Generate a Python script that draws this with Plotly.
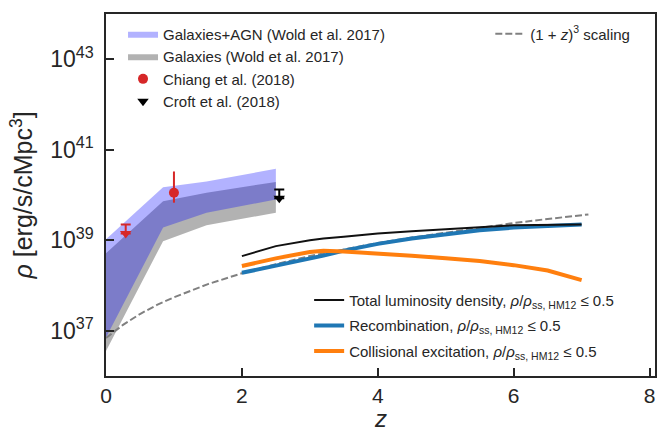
import plotly.graph_objects as go

# ---------------- data (log10 of rho in erg/s/cMpc^3) ----------------
z_band = [0.0, 0.84, 1.48, 2.5]
agn_hi = [39.02, 40.17, 40.30, 40.58]
agn_lo = [36.85, 39.28, 39.61, 39.90]
gal_hi = [38.71, 39.86, 40.05, 40.29]
gal_lo = [36.55, 38.98, 39.33, 39.61]

chiang_z = [1.0]
chiang_y = [40.05]
chiang_up = [40.52]
chiang_dn = [39.83]

chiang_ul_z = [0.29]
chiang_ul_y = [39.15]
chiang_ul_cap = [39.35]

croft_z = [2.55]
croft_y = [39.93]
croft_cap = [40.12]

z_scal = [0.0, 0.1, 0.25, 0.5, 0.75, 1.0, 1.5, 2.0, 2.5, 3.0, 3.5, 4.0, 4.5, 5.0, 5.5, 6.0, 6.5, 7.0, 7.1]
scal = [36.84, 36.96, 37.13, 37.37, 37.57, 37.74, 38.03, 38.27, 38.47, 38.65, 38.80, 38.94,
        39.06, 39.17, 39.28, 39.38, 39.47, 39.55, 39.57]

z_sim = [2.0, 2.5, 3.0, 3.2, 3.5, 4.0, 4.5, 5.0, 5.5, 6.0, 6.5, 7.0]
total = [38.65, 38.87, 39.00, 39.04, 39.08, 39.15, 39.20, 39.25, 39.29, 39.33, 39.34, 39.35]
recomb = [38.28, 38.43, 38.59, 38.66, 38.77, 38.92, 39.04, 39.14, 39.22, 39.28, 39.32, 39.35]
collis = [38.43, 38.60, 38.74, 38.77, 38.75, 38.71, 38.66, 38.60, 38.54, 38.45, 38.33, 38.12]

y_tick_exp = [37, 39, 41, 43]
x_ticks = [0, 2, 4, 6, 8]


def lin(v):
    return [10.0 ** a for a in v]


TXT = "#262626"
FONT = "Liberation Sans, Arial, sans-serif"

fig = go.Figure()

# bands
fig.add_trace(go.Scatter(
    x=z_band + z_band[::-1], y=lin(gal_hi + gal_lo[::-1]),
    fill="toself", fillcolor="rgba(0,0,0,0.3)", line=dict(width=0),
    mode="lines", name="Galaxies (Wold et al. 2017)", legend="legend", legendrank=2,
    hoverinfo="skip"))
fig.add_trace(go.Scatter(
    x=z_band + z_band[::-1], y=lin(agn_hi + agn_lo[::-1]),
    fill="toself", fillcolor="rgba(0,0,255,0.3)", line=dict(width=0),
    mode="lines", name="Galaxies+AGN (Wold et al. 2017)", legend="legend", legendrank=1,
    hoverinfo="skip"))

# scaling line
fig.add_trace(go.Scatter(
    x=z_scal, y=lin(scal), mode="lines",
    line=dict(color="#808080", width=2, dash="7px,3px"),
    name="(1 + <i>z</i>)<sup>3</sup> scaling", legend="legend2"))

# simulation lines
fig.add_trace(go.Scatter(
    x=z_sim, y=lin(recomb), mode="lines", line=dict(color="#1f77b4", width=4),
    name="Recombination, <i>ρ</i>/<i>ρ</i><sub>ss, HM12</sub> ≤ 0.5",
    legend="legend3", legendrank=2, legendgroup="rec"))
fig.add_trace(go.Scatter(
    x=z_sim, y=lin(collis), mode="lines", line=dict(color="#ff7f0e", width=4),
    name="Collisional excitation, <i>ρ</i>/<i>ρ</i><sub>ss, HM12</sub> ≤ 0.5",
    legend="legend3", legendrank=3, legendgroup="col"))
fig.add_trace(go.Scatter(
    x=z_sim, y=lin(total), mode="lines", line=dict(color="#111111", width=2),
    name="Total luminosity density, <i>ρ</i>/<i>ρ</i><sub>ss, HM12</sub> ≤ 0.5",
    legend="legend3", legendrank=1, legendgroup="tot"))

# Chiang detection
cy = lin(chiang_y)
fig.add_trace(go.Scatter(
    x=chiang_z, y=cy, mode="markers",
    marker=dict(symbol="circle", size=10, color="#d62728"),
    error_y=dict(type="data", symmetric=False,
                 array=[u - c for u, c in zip(lin(chiang_up), cy)],
                 arrayminus=[c - d for d, c in zip(lin(chiang_dn), cy)],
                 color="#d62728", thickness=2, width=0),
    name="Chiang et al. (2018)", legend="legend", legendrank=3))
# Chiang upper limit
uy = lin(chiang_ul_y)
fig.add_trace(go.Scatter(
    x=chiang_ul_z, y=uy, mode="markers",
    marker=dict(symbol="triangle-down", size=10, color="#d62728"),
    error_y=dict(type="data", symmetric=False,
                 array=[c - u for c, u in zip(lin(chiang_ul_cap), uy)],
                 arrayminus=[0], color="#d62728", thickness=2, width=5),
    showlegend=False))
# Croft upper limit
ky = lin(croft_y)
fig.add_trace(go.Scatter(
    x=croft_z, y=ky, mode="markers",
    marker=dict(symbol="triangle-down", size=10, color="black"),
    error_y=dict(type="data", symmetric=False,
                 array=[c - k for c, k in zip(lin(croft_cap), ky)],
                 arrayminus=[0], color="black", thickness=2, width=5),
    name="Croft et al. (2018)", legend="legend", legendrank=4))

leg_common = dict(bgcolor="rgba(0,0,0,0)", font=dict(family=FONT, size=15, color=TXT))

fig.update_layout(
    width=670, height=430,
    margin=dict(l=106, r=15, t=14, b=54),
    paper_bgcolor="white", plot_bgcolor="white",
    font=dict(family=FONT, color=TXT),
    legend=dict(x=0.031, y=0.99, xanchor="left", yanchor="top", tracegroupgap=0, **leg_common),
    legend2=dict(x=0.70, y=0.99, xanchor="left", yanchor="top", tracegroupgap=0, **leg_common),
    legend3=dict(x=0.37, y=0.023, xanchor="left", yanchor="bottom", tracegroupgap=3,
                 **leg_common),
    xaxis=dict(
        range=[0, 8.08], tickvals=x_ticks, ticktext=[str(t) for t in x_ticks],
        ticks="inside", ticklen=8, tickwidth=1.5, tickcolor=TXT,
        showline=True, linecolor=TXT, linewidth=1.5, mirror=True,
        showgrid=False, zeroline=False,
        tickfont=dict(family=FONT, size=21, color=TXT), ticklabelstandoff=0,
    ),
    yaxis=dict(
        type="log", range=[36, 44],
        tickvals=[10.0 ** e for e in y_tick_exp],
        ticktext=["10<sup>%d</sup>" % e for e in y_tick_exp],
        ticks="inside", ticklen=8, tickwidth=1.5, tickcolor=TXT,
        showline=True, linecolor=TXT, linewidth=1.5, mirror=True,
        showgrid=False, zeroline=False,
        tickfont=dict(family=FONT, size=23, color=TXT), ticklabelstandoff=6,
        title=dict(text="<i>ρ</i> [erg/s/cMpc<sup>3</sup>]",
                   font=dict(family=FONT, size=25, color=TXT), standoff=10),
    ),
    annotations=[dict(text="<i>z</i>", xref="paper", yref="paper", x=0.5, y=-0.118,
                      xanchor="center", yanchor="middle", showarrow=False,
                      font=dict(family=FONT, size=24, color=TXT))],
)

fig.write_html("out.html", config={"displayModeBar": False},
               post_script="document.body.style.margin='0';")
